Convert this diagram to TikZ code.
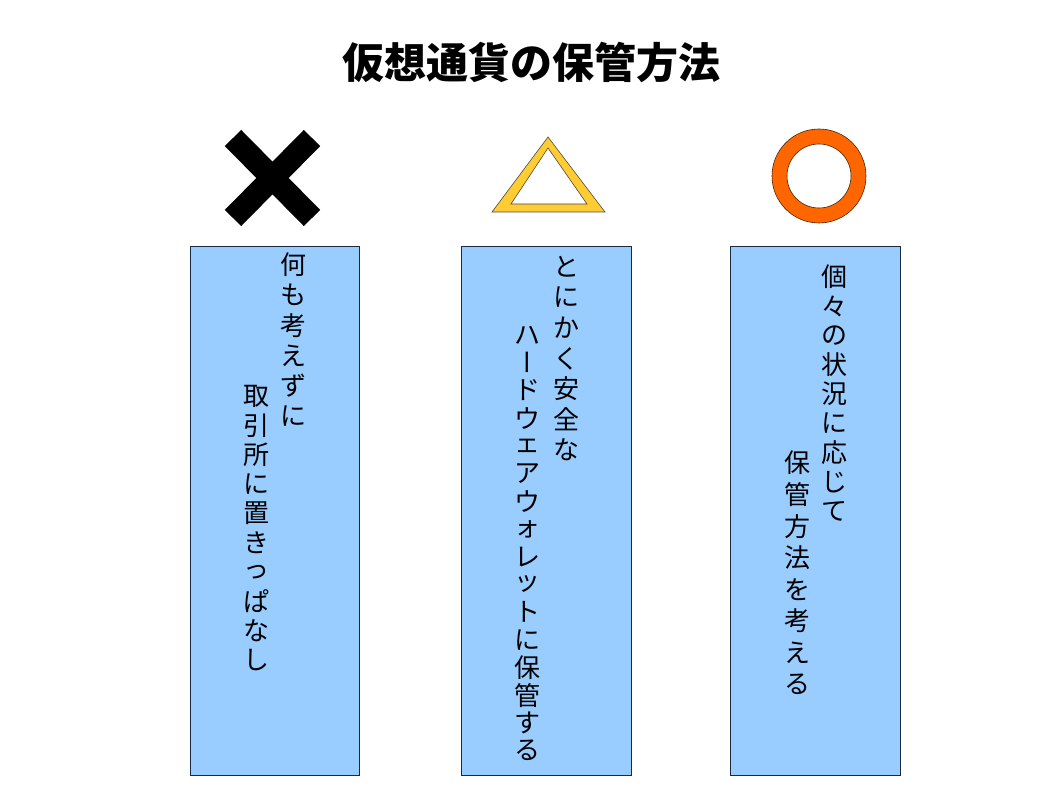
\documentclass[tikz,border=0pt]{standalone}
\usepackage{fontspec}
\newfontfamily\jp{Noto Sans CJK JP}
\newfontfamily\vjp[RawFeature=+vert]{Noto Sans CJK JP}
\definecolor{boxblue}{HTML}{99CCFF}
\definecolor{boxline}{HTML}{1A2A40}
\definecolor{triyellow}{HTML}{FFCC33}
\definecolor{ringorange}{HTML}{FF6600}
\tikzset{
  panel/.style={draw=boxline, line width=0.8pt, fill=boxblue},
  ch/.style={font=\jp\fontsize{26}{26}\selectfont, inner sep=0pt, text=black},
  titletext/.style={font=\jp\bfseries\fontsize{42}{42}\selectfont, inner sep=0pt},
}
\newcommand{\vcol}[5]{% x, start y, pitch, name prefix, chars
  \foreach \c [count=\i from 0] in {#5}
    \node[ch] (#4\i) at (#1, #2+\i*#3) {\c};
}
\newcommand{\vbar}{{\vjp ー}}
\begin{document}
\begin{tikzpicture}[x=1pt,y=-1pt]
\useasboundingbox[fill=white] (0,0) rectangle (1058,794);
\node[titletext] (title) at (531,63) {仮想通貨の保管方法};
% symbols
\draw[line width=23pt, line cap=butt] (233,138) -- (312,218);
\draw[line width=23pt, line cap=butt] (312,138) -- (233,218);
\draw[fill=triyellow, draw=black!80!yellow, line width=0.6pt, even odd rule]
  (548,137) -- (605,212) -- (492,212) -- cycle
  (548,148) -- (587,204) -- (511,204) -- cycle;
\draw[fill=ringorange, draw=black!70!orange, line width=0.6pt, even odd rule]
  (819,176) circle[radius=47] (819,176) circle[radius=32];
% panels
\draw[panel] (190,246) rectangle (359,775);
\draw[panel] (461,246) rectangle (631,775);
\draw[panel] (730,246) rectangle (900,775);
% texts
\vcol{293}{265}{30.2}{a}{何,も,考,え,ず,に}
\vcol{256}{396}{29.3}{b}{取,引,所,に,置,き,っ,ぱ,な,し}
\vcol{566}{267}{30.5}{c}{と,に,か,く,安,全,な}
\vcol{527}{335}{27.7}{d}{ハ,\vbar,ド,ウ,ェ,ア,ウ,ォ,レ,ッ,ト,に,保,管,す,る}
\vcol{834}{277}{29.3}{e}{個,々,の,状,況,に,応,じ,て}
\vcol{797}{463}{31.6}{f}{保,管,方,法,を,考,え,る}
\end{tikzpicture}
\end{document}
